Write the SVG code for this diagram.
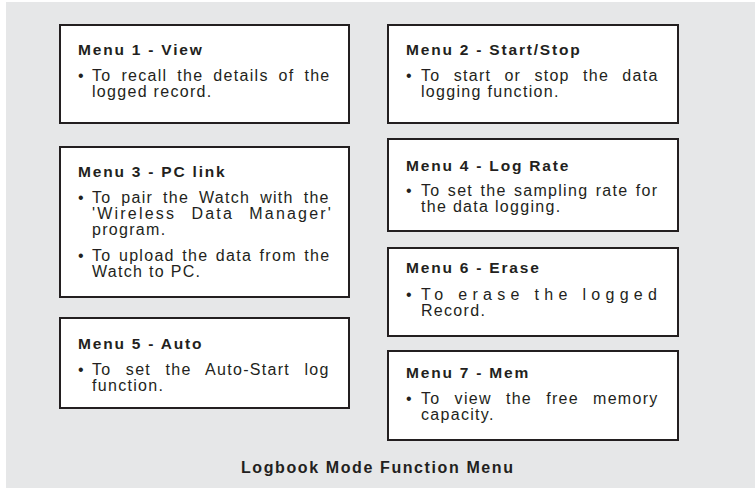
<svg xmlns="http://www.w3.org/2000/svg" width="755" height="490" viewBox="0 0 755 490">
<style>
.box{fill:#ffffff;stroke:#231f20;stroke-width:2}
.t{font-family:"Liberation Sans",Arial,sans-serif;font-weight:bold;font-size:15.5px;letter-spacing:1.8px;fill:#231f20}
.b{font-family:"Liberation Sans",Arial,sans-serif;font-size:16px;letter-spacing:1.3px;fill:#231f20}
.f{font-family:"Liberation Sans",Arial,sans-serif;font-weight:bold;font-size:16px;letter-spacing:1.6px;fill:#231f20}
</style>
<rect x="6" y="2" width="749" height="486" fill="#e6e7e8"/>
<g id="connectors"></g>
<g id="menu1">
<rect class="box" x="60" y="25" width="289" height="98"/>
<text class="t" x="78" y="55">Menu 1 - View</text>
<text class="b" x="78" y="81">•</text>
<text class="b" x="92" y="81" style="word-spacing:4.14px">To recall the details of the</text>
<text class="b" x="92" y="97">logged record.</text>
</g>
<g id="menu2">
<rect class="box" x="388" y="25" width="290" height="98"/>
<text class="t" x="406" y="55">Menu 2 - Start/Stop</text>
<text class="b" x="406" y="81">•</text>
<text class="b" x="421" y="81" style="word-spacing:7.4px">To start or stop the data</text>
<text class="b" x="421" y="97">logging function.</text>
</g>
<g id="menu3">
<rect class="box" x="60" y="147" width="289" height="150"/>
<text class="t" x="78" y="177">Menu 3 - PC link</text>
<text class="b" x="78" y="203">•</text>
<text class="b" x="92" y="203" style="word-spacing:4.1px">To pair the Watch with the</text>
<text class="b" x="92" y="219" style="letter-spacing:2.2px;word-spacing:8.6px">'Wireless Data Manager'</text>
<text class="b" x="92" y="235">program.</text>
<text class="b" x="78" y="261">•</text>
<text class="b" x="92" y="261" style="word-spacing:1.7px">To upload the data from the</text>
<text class="b" x="92" y="277">Watch to PC.</text>
</g>
<g id="menu5">
<rect class="box" x="60" y="318" width="289" height="90"/>
<text class="t" x="78" y="349">Menu 5 - Auto</text>
<text class="b" x="78" y="375">•</text>
<text class="b" x="92" y="375" style="word-spacing:8.6px">To set the Auto-Start log</text>
<text class="b" x="92" y="391">function.</text>
</g>
<g id="menu4">
<rect class="box" x="388" y="139" width="290" height="92"/>
<text class="t" x="406" y="171">Menu 4 - Log Rate</text>
<text class="b" x="406" y="196">•</text>
<text class="b" x="421" y="196" style="word-spacing:1.6px">To set the sampling rate for</text>
<text class="b" x="421" y="212">the data logging.</text>
</g>
<g id="menu6">
<rect class="box" x="388" y="248" width="290" height="88"/>
<text class="t" x="406" y="273">Menu 6 - Erase</text>
<text class="b" x="406" y="300">•</text>
<text class="b" x="421" y="300" style="letter-spacing:5.3px">To erase the logged</text>
<text class="b" x="421" y="316">Record.</text>
</g>
<g id="menu7">
<rect class="box" x="388" y="351" width="290" height="89"/>
<text class="t" x="406" y="378">Menu 7 - Mem</text>
<text class="b" x="406" y="404">•</text>
<text class="b" x="421" y="404" style="word-spacing:8.35px">To view the free memory</text>
<text class="b" x="421" y="420">capacity.</text>
</g>
<g id="caption">
<text class="f" x="241" y="473">Logbook Mode Function Menu</text>
</g>
</svg>
